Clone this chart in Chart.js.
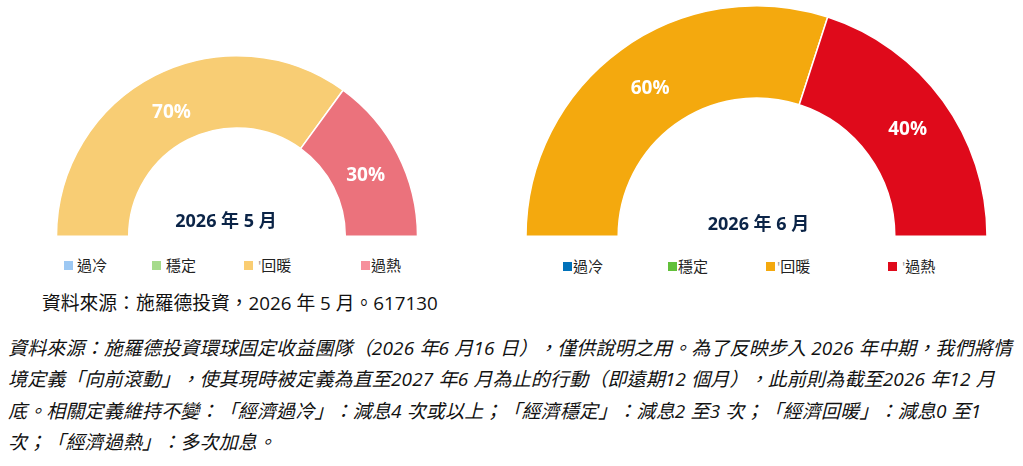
<!DOCTYPE html>
<html>
<head>
<meta charset="utf-8">
<script src="https://cdn.jsdelivr.net/npm/chart.js@4.4.1/dist/chart.umd.min.js"></script>
<style>
  html, body { margin: 0; padding: 0; background: #fff; }
  body { width: 1023px; height: 466px; position: relative; overflow: hidden;
         font-family: "Open Sans", "Noto Sans CJK TC", sans-serif; color: #111;
         text-spacing-trim: space-all; }
  canvas { position: absolute; }
  .legend { position: absolute; font-size: 15px; line-height: 18px; white-space: nowrap; color: #222; }
  .legend .sw { position: absolute; width: 9px; height: 9px; }
  .legend .tx { position: absolute; top: 0; }
  .legend .tick { color: #999; }
  #source { position: absolute; left: 42px; top: 288px; font-size: 18.8px; white-space: nowrap; }
  #note { position: absolute; left: 8px; top: 333px; font-size: 19px; line-height: 31.3px;
          letter-spacing: 0.15px; font-style: italic; white-space: nowrap; }
</style>
</head>
<body>
<canvas id="mayChart" width="384" height="202" style="left:45px;top:45px;width:384px;height:202px"></canvas>
<canvas id="junChart" width="483" height="247" style="left:515px;top:0px;width:483px;height:247px"></canvas>
<div id="mayLegend" class="legend" style="left:0;top:256px"></div>
<div id="junLegend" class="legend" style="left:0;top:257px"></div>
<div id="source">資料來源：施羅德投資，2026 年 5 月。617130</div>
<div id="note">資料來源：施羅德投資環球固定收益團隊（2026 年6 月16 日），僅供說明之用。為了反映步入 2026 年中期，我們將情<br>境定義「向前滾動」，使其現時被定義為直至2027 年6 月為止的行動（即遠期12 個月），此前則為截至2026 年12 月<br>底。相關定義維持不變：「經濟過冷」：減息4 次或以上；「經濟穩定」：減息2 至3 次；「經濟回暖」：減息0 至1<br>次；「經濟過熱」：多次加息。</div>
<script>
// categories and values
const categories = ['過冷', '穩定', '回暖', '過熱'];
const mayValues = [0, 0, 70, 30];
const junValues = [0, 0, 60, 40];
const mayTitle = '2026 年 5 月';
const junTitle = '2026 年 6 月';

// colours
const mayColors = ['#9DC8F3', '#A6DB8C', '#F8CD74', '#EB727C'];
const maySwatch = ['#9DC8F3', '#A6DB8C', '#FACD72', '#F6909C'];
const junColors = ['#0071B9', '#62C03A', '#F4A90E', '#DF0A1B'];

// plugin: percent labels + centre title
const gaugeText = {
    id: 'gaugeText',
    afterDatasetsDraw(chart, args, opts) {
        const ctx = chart.ctx;
        const meta = chart.getDatasetMeta(0);
        const values = chart.data.datasets[0].data;
        ctx.save();
        ctx.textAlign = 'center';
        ctx.textBaseline = 'middle';
        ctx.fillStyle = '#fff';
        ctx.font = 'bold ' + opts.labelSize + 'px "Open Sans", "Noto Sans CJK TC"';
        meta.data.forEach((arc, i) => {
            if (!values[i]) return;
            const p = arc.tooltipPosition();
            ctx.fillText(values[i] + '%', p.x + opts.labelDx, p.y + opts.labelDy);
        });
        const first = meta.data[0];
        ctx.fillStyle = '#0B2447';
        ctx.font = 'bold 18px "Open Sans", "Noto Sans CJK TC"';
        ctx.fillText(opts.title, first.x + opts.titleDx, first.y + opts.titleDy);
        ctx.restore();
    }
};

function makeGauge(id, values, colors, padding, textOpts) {
    return new Chart(document.getElementById(id), {
        type: 'doughnut',
        data: {
            labels: categories,
            datasets: [{
                data: values,
                backgroundColor: colors,
                borderColor: '#fff',
                borderWidth: 1.5
            }]
        },
        options: {
            responsive: false,
            animation: false,
            rotation: -90,
            circumference: 180,
            cutout: '60%',
            layout: { padding: padding },
            plugins: {
                legend: { display: false },
                tooltip: { enabled: false },
                gaugeText: textOpts
            }
        },
        plugins: [gaugeText]
    });
}

makeGauge('mayChart', mayValues, mayColors,
    { left: 10, right: 10, top: 10, bottom: 10 },
    { title: mayTitle, titleDx: -11, titleDy: -14, labelSize: 19, labelDx: 0, labelDy: 5 });
makeGauge('junChart', junValues, junColors,
    { left: 10, right: 10, top: 5, bottom: 10 },
    { title: junTitle, titleDx: 2, titleDy: -11, labelSize: 19, labelDx: 2, labelDy: 2 });

// html legends
function buildLegend(elId, swatches, swatchX, textX, tickIdx) {
    const el = document.getElementById(elId);
    categories.forEach((name, i) => {
        const sw = document.createElement('span');
        sw.className = 'sw';
        sw.style.left = swatchX[i] + 'px';
        sw.style.top = '4.5px';
        sw.style.background = swatches[i];
        el.appendChild(sw);
        const tx = document.createElement('span');
        tx.className = 'tx';
        tx.style.left = textX[i] + 'px';
        tx.innerHTML = (tickIdx.includes(i) ? '<span class="tick">\'</span>' : '') + name;
        el.appendChild(tx);
    });
}
buildLegend('mayLegend', maySwatch, [64, 152, 244, 361], [77, 166, 258, 371], [2]);
buildLegend('junLegend', junColors, [563, 668, 766, 888], [573, 678, 777, 902], [2, 3]);
</script>
</body>
</html>
